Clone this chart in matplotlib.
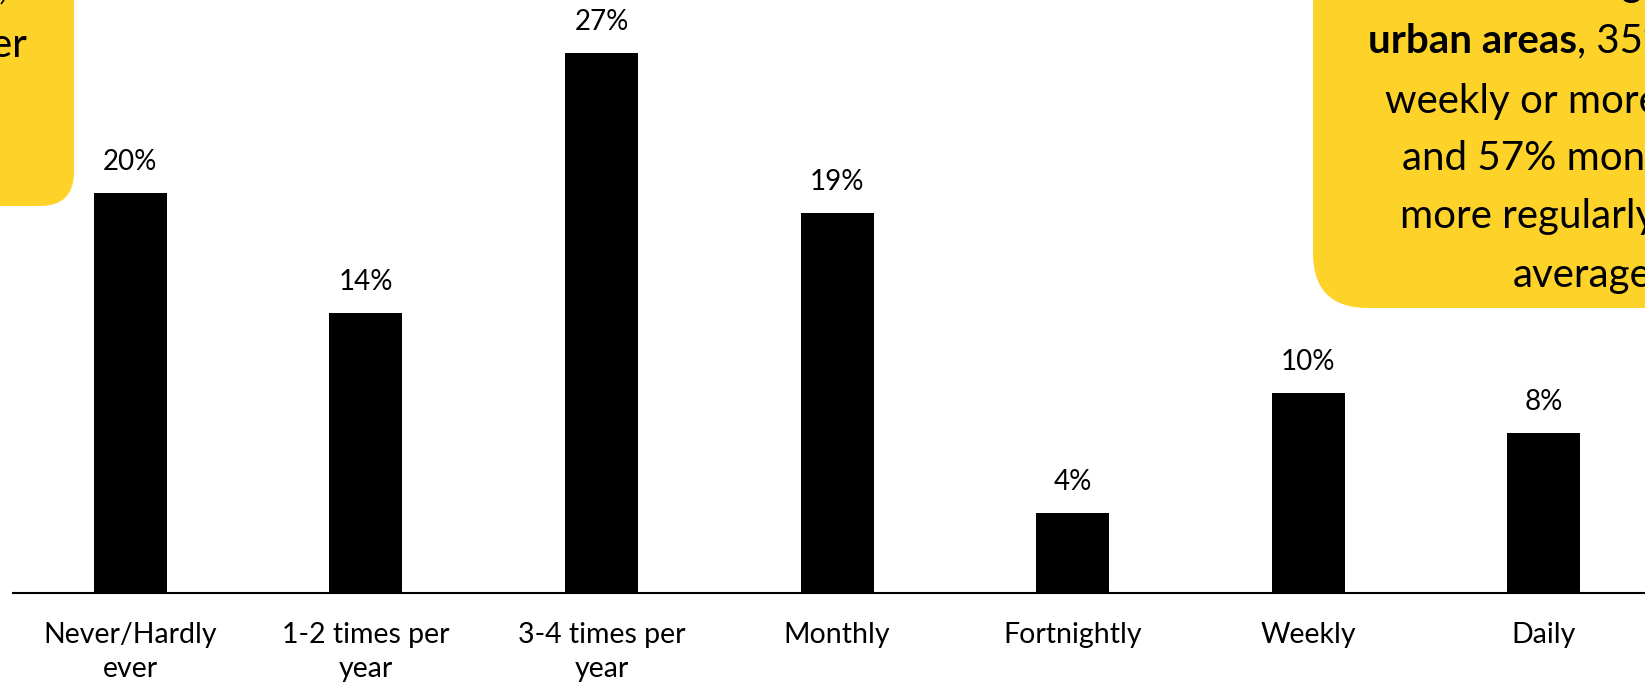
import matplotlib
matplotlib.use("Agg")
import matplotlib.pyplot as plt
from matplotlib.patches import FancyBboxPatch
from matplotlib.transforms import Affine2D

plt.rcParams['font.family'] = ['Lato', 'DejaVu Sans']

categories = ["Never/Hardly\never", "1-2 times per\nyear", "3-4 times per\nyear",
              "Monthly", "Fortnightly", "Weekly", "Daily"]
values = [20, 14, 27, 19, 4, 10, 8]

YELLOW = "#FDD32A"
W, H = 1645, 687
BOX_FS = 29

fig = plt.figure(figsize=(W / 100, H / 100), dpi=100)

# pixel coordinates measured from the top-left corner of the figure
px = Affine2D().scale(1 / W, -1 / H).translate(0, 1) + fig.transFigure

## ========================================================
## callout boxes (partly off the edge)
## ========================================================
left_box = FancyBboxPatch((-384, -84), 442, 274,
                          boxstyle="round,pad=16,rounding_size=34",
                          transform=px, fc=YELLOW, ec="none", zorder=0)
fig.patches.append(left_box)

right_box = FancyBboxPatch((1341, -100), 500, 380,
                           boxstyle="round,pad=28,rounding_size=55",
                           transform=px, fc=YELLOW, ec="none", zorder=0)
fig.patches.append(right_box)

# left callout: only the line endings fall inside the figure
fig.text(7, -1, "Among the under 35s,", transform=px, fontsize=BOX_FS,
         ha="right", va="baseline")
fig.text(27, 57, "52% go monthly or higher", transform=px, fontsize=BOX_FS,
         ha="right", va="baseline")

# right callout
fig.text(1642, -4, "Of those living", transform=px, fontsize=BOX_FS,
         ha="right", va="baseline")
bold = fig.text(1368, 53, "urban areas", transform=px, fontsize=BOX_FS,
                fontweight="bold", ha="left", va="baseline")
r = fig.canvas.get_renderer()
bx1 = bold.get_window_extent(renderer=r).x1
fig.text(bx1, 53, ", 35% go", transform=px, fontsize=BOX_FS,
         ha="left", va="baseline")

right_lines = ["weekly or more often", "and 57% monthly or",
               "more regularly than", "average"]
line_x = [1385, 1402, 1400, 1513]
line_y = [113, 170, 228, 287]
for line, lx, ly in zip(right_lines, line_x, line_y):
    fig.text(lx, ly, line, transform=px, fontsize=BOX_FS,
             ha="left", va="baseline")

## ========================================================
## bar chart
## ========================================================
ax = fig.add_axes([12.6 / W, (H - 593) / H, 1 - 12.6 / W, 593 / H])
ax.patch.set_alpha(0)

x = range(len(categories))
bars = ax.bar(x, values, width=0.31, color="black", zorder=2)

for b, v in zip(bars, values):
    ax.annotate(f"{v}%", (b.get_x() + b.get_width() / 2, v),
                xytext=(0, 22), textcoords="offset points",
                ha="center", va="center", fontsize=20)

ax.set_xlim(-0.5, 6.43)
ax.set_ylim(0, 29.65)
ax.set_xticks(list(x))
ax.set_xticklabels(categories, fontsize=20.5, linespacing=1.38)
ax.tick_params(axis="x", length=0, pad=21)
ax.set_yticks([])
for s in ["top", "left", "right"]:
    ax.spines[s].set_visible(False)
ax.spines["bottom"].set_linewidth(1.5)

fig.savefig("out.png", dpi=100)
